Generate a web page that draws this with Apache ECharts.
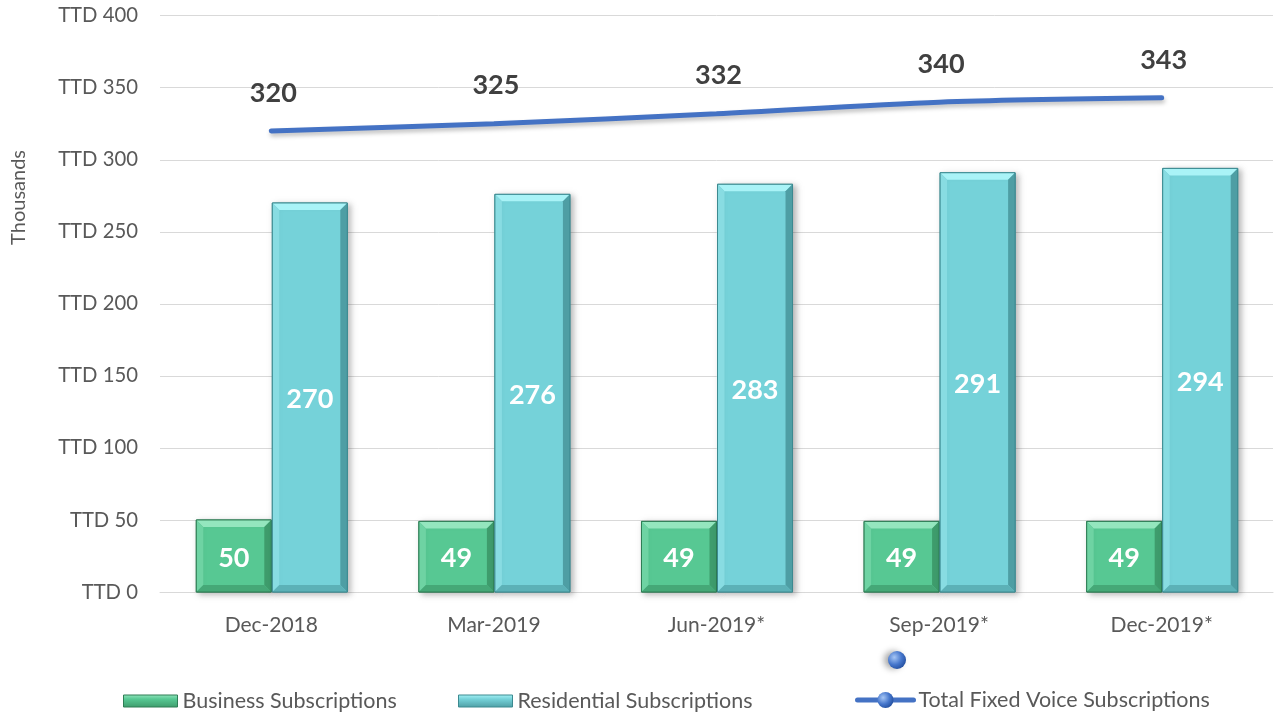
<!DOCTYPE html>
<html>
<head>
<meta charset="utf-8">
<script src="https://cdn.jsdelivr.net/npm/echarts@6/dist/echarts.min.js"></script>
<style>
  html, body { margin: 0; padding: 0; background: #ffffff; }
  #chart { width: 1277px; height: 721px; }
</style>
</head>
<body>
<div id="chart"></div>
<script>
// Fixed voice subscriptions by quarter (thousands)
const categories = ['Dec-2018', 'Mar-2019', 'Jun-2019*', 'Sep-2019*', 'Dec-2019*'];
const businessSubs = [50, 49, 49, 49, 49];
const residentialSubs = [270, 276, 283, 291, 294];
const totalVoiceSubs = [320, 325, 332, 340, 343];
const yTicks = [0, 50, 100, 150, 200, 250, 300, 350, 400];

const FONT = 'Lato, "Open Sans", "Noto Sans", sans-serif';

const palette = {
  business:    { face: '#57C893', top: '#94E6BE', left: '#6ED3A3', right: '#3E9C6C', bottom: '#45A877', edge: '#2E7D55' },
  residential: { face: '#75D2D9', top: '#A9F3F7', left: '#88DCE2', right: '#4E9EA4', bottom: '#5CB1B7', edge: '#3C8A90' }
};

// Bevelled bar drawn through the category/value scales
function bevelBar(side, colors) {
  return function (params, api) {
    const idx = api.value(0);
    const val = api.value(1);
    const topPt = api.coord([idx, val]);
    const basePt = api.coord([idx, 0]);
    const band = api.size([1, 0])[0];
    const w = band * 0.337;
    const x = side === 'left' ? topPt[0] - w : topPt[0] + 1;
    const y = topPt[1];
    const h = basePt[1] - topPt[1];
    const b = Math.min(7, h / 3);
    return {
      type: 'group',
      children: [
        { type: 'rect', shape: { x: x, y: y, width: w, height: h },
          style: { fill: colors.face, stroke: colors.edge, lineWidth: 1,
                   shadowBlur: 6, shadowOffsetX: 3, shadowOffsetY: 2, shadowColor: 'rgba(0,0,0,0.28)' } },
        { type: 'polygon', shape: { points: [[x, y], [x + w, y], [x + w - b, y + b], [x + b, y + b]] },
          style: { fill: colors.top } },
        { type: 'polygon', shape: { points: [[x, y], [x + b, y + b], [x + b, y + h - b], [x, y + h]] },
          style: { fill: colors.left } },
        { type: 'polygon', shape: { points: [[x + w, y], [x + w, y + h], [x + w - b, y + h - b], [x + w - b, y + b]] },
          style: { fill: colors.right } },
        { type: 'polygon', shape: { points: [[x, y + h], [x + w, y + h], [x + w - b, y + h - b], [x + b, y + h - b]] },
          style: { fill: colors.bottom } },
        { type: 'rect', shape: { x: x, y: y, width: w, height: h },
          style: { fill: 'none', stroke: colors.edge, lineWidth: 1 } },
        { type: 'text',
          style: { text: String(val), x: x + w / 2, y: y + h / 2 + 2, align: 'center', verticalAlign: 'middle',
                   fill: '#ffffff', font: 'bold 27px ' + FONT } }
      ]
    };
  };
}

function barData(values) {
  return values.map((v, i) => [i, v]);
}

const legendText = { color: '#595959', fontSize: 21.5, fontFamily: FONT };
const sphere = new echarts.graphic.RadialGradient(0.35, 0.35, 0.75, [
  { offset: 0, color: '#A6C6F5' }, { offset: 0.55, color: '#4576CC' }, { offset: 1, color: '#1F4A99' }]);

const chart = echarts.init(document.getElementById('chart'), null, { renderer: 'canvas' });

chart.setOption({
  backgroundColor: '#ffffff',
  animation: false,
  grid: { left: 160, right: 4, top: 15.7, bottom: 129, containLabel: false },
  xAxis: {
    type: 'category',
    data: categories,
    axisLine: { show: true, lineStyle: { color: '#D9D9D9', width: 1 } },
    axisTick: { show: false },
    axisLabel: { color: '#595959', fontSize: 21, fontFamily: FONT, margin: 23 }
  },
  yAxis: {
    type: 'value',
    min: yTicks[0],
    max: yTicks[yTicks.length - 1],
    interval: 50,
    axisLine: { show: false },
    axisTick: { show: false },
    splitLine: { lineStyle: { color: '#D9D9D9', width: 1 } },
    axisLabel: { color: '#595959', fontSize: 20.3, fontFamily: FONT, margin: 22,
                 formatter: v => 'TTD ' + v }
  },
  legend: [
    { data: [{ name: 'Business Subscriptions', icon: 'rect',
               itemStyle: { color: new echarts.graphic.LinearGradient(0, 0, 0, 1, [
                 { offset: 0, color: '#94E6BE' }, { offset: 0.35, color: '#57C893' }, { offset: 1, color: '#3E9C6C' }]),
                 borderColor: '#2E7D55', borderWidth: 1 } }],
      left: 123, top: 690, padding: 0, itemWidth: 54, itemHeight: 12, itemGap: 4, textStyle: legendText },
    { data: [{ name: 'Residential Subscriptions', icon: 'rect',
               itemStyle: { color: new echarts.graphic.LinearGradient(0, 0, 0, 1, [
                 { offset: 0, color: '#A9F3F7' }, { offset: 0.35, color: '#75D2D9' }, { offset: 1, color: '#4E9EA4' }]),
                 borderColor: '#3C8A90', borderWidth: 1 } }],
      left: 458, top: 690, padding: 0, itemWidth: 54, itemHeight: 12, itemGap: 4, textStyle: legendText },
    { data: [{ name: 'Total Fixed Voice Subscriptions',
               itemStyle: { opacity: 1, color: sphere, borderWidth: 0 },
               lineStyle: { color: '#4472C4', width: 5, opacity: 1 } }],
      left: 855, top: 689, padding: 0, itemWidth: 56, itemHeight: 20, itemGap: 3, textStyle: legendText }
  ],
  graphic: [
    { type: 'text', left: 9, top: 150, rotation: Math.PI / 2,
      style: { text: 'Thousands', fill: '#595959', font: '20px ' + FONT } },
    { type: 'circle', shape: { cx: 897, cy: 660, r: 9 },
      style: { fill: sphere, shadowBlur: 6, shadowOffsetX: -4, shadowColor: 'rgba(0,0,0,0.35)' } }
  ],
  series: [
    {
      name: 'Business Subscriptions',
      type: 'custom',
      renderItem: bevelBar('left', palette.business),
      data: barData(businessSubs),
      itemStyle: { color: '#57C893' },
      z: 2
    },
    {
      name: 'Residential Subscriptions',
      type: 'custom',
      renderItem: bevelBar('right', palette.residential),
      data: barData(residentialSubs),
      itemStyle: { color: '#75D2D9' },
      z: 2
    },
    {
      name: 'Total Fixed Voice Subscriptions',
      type: 'line',
      data: totalVoiceSubs,
      smooth: 0.3,
      symbol: 'circle',
      symbolSize: 1,
      itemStyle: { color: 'rgba(0,0,0,0)', borderWidth: 0 },
      lineStyle: { color: '#4472C4', width: 5, cap: 'round',
                   shadowBlur: 4, shadowOffsetY: 3, shadowOffsetX: 1, shadowColor: 'rgba(0,0,0,0.25)' },
      label: { show: true, position: 'top', distance: 24, offset: [2, 0], color: '#404040',
               fontSize: 27, fontWeight: 'bold', fontFamily: FONT },
      z: 3
    }
  ]
});
</script>
</body>
</html>
